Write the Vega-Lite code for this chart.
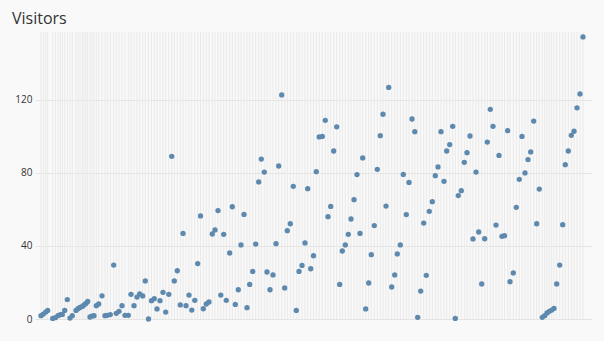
{
  "$schema": "https://vega.github.io/schema/vega-lite/v6.json",
  "autosize": "none",
  "width": 552,
  "height": 287,
  "padding": {"left": 40, "top": 32, "right": 12, "bottom": 22},
  "background": "#f9f9f9",
  "title": {"text": "Visitors", "anchor": "start", "frame": "group", "dx": -28, "dy": 16, "offset": 8, "baseline": "alphabetic", "font": "Open Sans", "fontSize": 16, "fontWeight": "normal", "color": "#333333"},
  "config": {"view": {"stroke": null}},
  "data": {"values": [
    {"t":1.0,"v":1.8},{"t":3.3,"v":2.7},{"t":5.7,"v":3.8},{"t":7.7,"v":4.7},{"t":12.7,"v":0.3},{"t":15.3,"v":0.7},{"t":18,"v":1.8},{"t":20.3,"v":2.4},{"t":22.3,"v":2.5},{"t":24.7,"v":4.7},
    {"t":27.3,"v":10.6},{"t":30,"v":0.5},{"t":32.3,"v":1.8},{"t":36,"v":4.7},{"t":38,"v":5.6},{"t":40,"v":6.3},{"t":42.3,"v":6.9},{"t":44,"v":7.7},{"t":46,"v":8.5},{"t":47.7,"v":9.6},
    {"t":50,"v":1.1},{"t":52,"v":1.6},{"t":54,"v":1.8},{"t":56.3,"v":7.3},{"t":58.7,"v":8.2},{"t":62,"v":12.7},{"t":65,"v":1.8},{"t":67.3,"v":2.0},{"t":70.3,"v":2.4},{"t":73.7,"v":29.5},
    {"t":76.3,"v":3.1},{"t":79,"v":4.2},{"t":82,"v":7.3},{"t":85,"v":2.0},{"t":88.3,"v":2.0},{"t":91,"v":13.5},{"t":94,"v":7.3},{"t":97,"v":12.0},{"t":99.7,"v":13.8},{"t":102.7,"v":12.6},
    {"t":105.3,"v":20.8},{"t":108.5,"v":0},{"t":111.5,"v":10.0},{"t":114.3,"v":11.1},{"t":117,"v":5.5},{"t":120,"v":10.0},{"t":123,"v":14.6},{"t":125.7,"v":3.8},{"t":128.8,"v":13.5},{"t":131.7,"v":89.0},
    {"t":134.3,"v":20.8},{"t":137.3,"v":26.4},{"t":140.3,"v":7.7},{"t":143,"v":46.8},{"t":146,"v":7.3},{"t":149,"v":13.1},{"t":151.8,"v":4.9},{"t":154.8,"v":10.2},{"t":157.7,"v":30.3},{"t":160.5,"v":56.4},
    {"t":163.3,"v":5.6},{"t":166.3,"v":8.2},{"t":169,"v":9.3},{"t":172.3,"v":46.5},{"t":175,"v":48.7},{"t":178,"v":59.3},{"t":180.8,"v":13.1},{"t":183.7,"v":46.3},{"t":186.3,"v":10.2},{"t":189.7,"v":36.1},
    {"t":192.3,"v":61.4},{"t":195.3,"v":8.0},{"t":198.3,"v":16.0},{"t":201,"v":40.5},{"t":204,"v":57.2},{"t":207,"v":6.2},{"t":209.7,"v":18.9},{"t":212.7,"v":26.0},{"t":215.7,"v":41.0},{"t":218.7,"v":75.0},
    {"t":221.3,"v":87.5},{"t":224.3,"v":80.4},{"t":227,"v":25.7},{"t":230,"v":16.0},{"t":233,"v":24.1},{"t":236,"v":41.2},{"t":238.7,"v":83.7},{"t":241.7,"v":122.6},{"t":244.7,"v":17.0},{"t":247.3,"v":48.3},
    {"t":250.3,"v":52.1},{"t":253.3,"v":72.6},{"t":256.3,"v":4.7},{"t":259,"v":26.0},{"t":262,"v":29.3},{"t":265,"v":41.6},{"t":267.7,"v":71.3},{"t":270.7,"v":27.5},{"t":273.5,"v":34.6},{"t":276.3,"v":80.6},
    {"t":279.2,"v":99.6},{"t":282.3,"v":99.9},{"t":285.3,"v":108.7},{"t":288,"v":56.0},{"t":290.7,"v":61.6},{"t":293.7,"v":91.9},{"t":296.7,"v":105.1},{"t":299.7,"v":18.9},{"t":302.3,"v":37.2},{"t":305.3,"v":40.5},
    {"t":308.3,"v":46.3},{"t":311,"v":54.7},{"t":314,"v":65.3},{"t":317,"v":79.0},{"t":320,"v":46.8},{"t":322.7,"v":88.1},{"t":325.7,"v":5.5},{"t":328.7,"v":19.7},{"t":331.3,"v":35.2},{"t":334.3,"v":51.1},
    {"t":337.3,"v":81.9},{"t":340.3,"v":100.3},{"t":343,"v":112.0},{"t":346,"v":61.8},{"t":348.7,"v":126.7},{"t":351.7,"v":17.5},{"t":354.7,"v":24.1},{"t":357.3,"v":35.6},{"t":360.3,"v":40.5},{"t":363.3,"v":79.1},
    {"t":366.3,"v":57.1},{"t":369,"v":74.7},{"t":372,"v":109.4},{"t":374.8,"v":102.5},{"t":377.7,"v":0.9},{"t":380.7,"v":15.3},{"t":383.7,"v":52.5},{"t":386.3,"v":23.9},{"t":389.3,"v":58.9},{"t":392.3,"v":64.2},
    {"t":395.3,"v":78.4},{"t":398,"v":83.2},{"t":401,"v":102.5},{"t":404,"v":75.3},{"t":406.7,"v":91.9},{"t":409.7,"v":95.4},{"t":412.7,"v":105.4},{"t":415.3,"v":0.3},{"t":418.3,"v":67.5},{"t":421.3,"v":70.2},
    {"t":424.3,"v":85.7},{"t":427,"v":91.0},{"t":430,"v":100.1},{"t":433,"v":43.8},{"t":436,"v":80.4},{"t":438.7,"v":47.6},{"t":441.7,"v":19.2},{"t":444.7,"v":43.9},{"t":447.3,"v":96.8},{"t":450.3,"v":114.7},
    {"t":453,"v":105.4},{"t":456,"v":51.4},{"t":459,"v":89.5},{"t":462,"v":45.2},{"t":464.5,"v":45.6},{"t":467.7,"v":103.0},{"t":470,"v":20.4},{"t":473.3,"v":25.2},{"t":476.3,"v":61.1},{"t":479.3,"v":76.4},
    {"t":482,"v":99.9},{"t":485,"v":79.9},{"t":488,"v":87.2},{"t":490.7,"v":91.4},{"t":493.7,"v":108.3},{"t":496.7,"v":52.1},{"t":499.3,"v":71.1},{"t":502.3,"v":0.9},{"t":504.7,"v":1.8},{"t":507,"v":3.3},
    {"t":509.3,"v":4.2},{"t":511.7,"v":4.9},{"t":514,"v":5.8},{"t":516.7,"v":19.2},{"t":519.7,"v":29.5},{"t":522.7,"v":51.6},{"t":525.3,"v":84.4},{"t":528.3,"v":91.9},{"t":531.3,"v":100.5},{"t":534,"v":102.7},
    {"t":537,"v":115.5},{"t":540,"v":123.1},{"t":543,"v":154.3}
  ]},
  "layer": [
    {
      "mark": {"type": "rule", "color": "#e9e9e9", "strokeWidth": 1},
      "encoding": {
        "x": {"field": "t", "type": "quantitative", "scale": {"domain": [0, 552], "nice": false, "zero": false}, "axis": null}
      }
    },
    {
      "mark": {"type": "point", "filled": true, "size": 28, "color": "#5d89ae", "opacity": 1},
      "encoding": {
        "x": {"field": "t", "type": "quantitative", "scale": {"domain": [0, 552], "nice": false, "zero": false}, "axis": null},
        "y": {"field": "v", "type": "quantitative", "scale": {"domain": [0, 157], "nice": false},
          "axis": {"values": [0, 40, 80, 120], "title": null, "domain": false, "grid": true, "gridColor": "#e4e4e4", "tickColor": "#e4e4e4", "tickSize": 5, "labelPadding": 3, "labelFont": "Open Sans", "labelFontSize": 10, "labelColor": "#333333"}}
      }
    }
  ]
}
